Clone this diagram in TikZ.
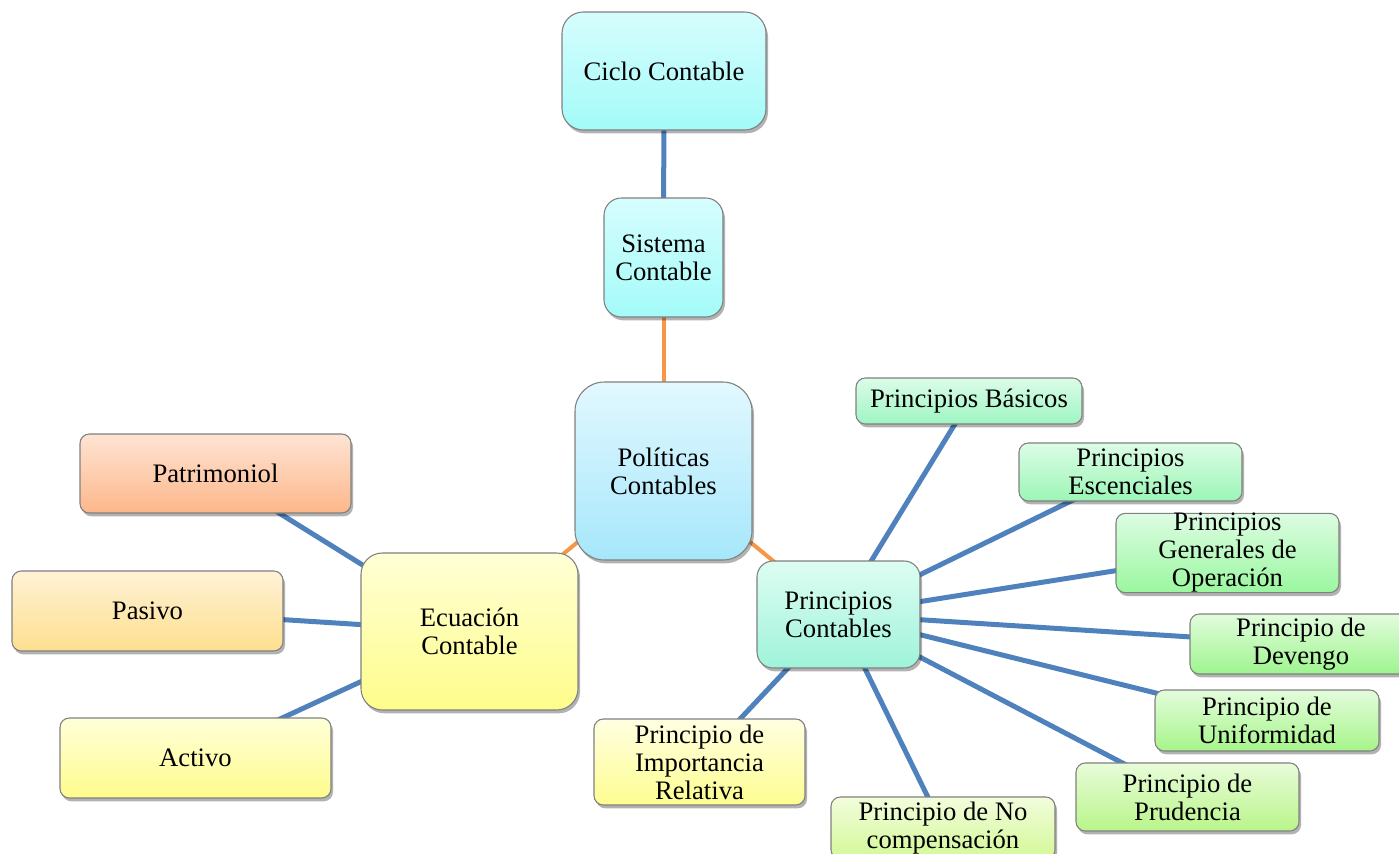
\documentclass[tikz,border=0pt]{standalone}
\usepackage{fontspec}
\setmainfont{Liberation Serif}
\usetikzlibrary{shadows,backgrounds}
\definecolor{cyanT}{HTML}{D6FDFD}\definecolor{cyanB}{HTML}{A3FBF9}
\definecolor{polT}{HTML}{E2F8FE}\definecolor{polB}{HTML}{A6E7FB}
\definecolor{pcT}{HTML}{DDFDF2}\definecolor{pcB}{HTML}{9FF3DA}
\definecolor{basT}{HTML}{DCFCE9}\definecolor{basB}{HTML}{9EF5C2}
\definecolor{escT}{HTML}{DCFCE6}\definecolor{escB}{HTML}{9CF6B6}
\definecolor{genT}{HTML}{DDFCE3}\definecolor{genB}{HTML}{9AF79F}
\definecolor{devT}{HTML}{E2FCDD}\definecolor{devB}{HTML}{9EF58E}
\definecolor{uniT}{HTML}{E3FCDC}\definecolor{uniB}{HTML}{A6F58A}
\definecolor{pruT}{HTML}{E8FCD9}\definecolor{pruB}{HTML}{B9F58A}
\definecolor{ncT}{HTML}{F2FDDC}\definecolor{ncB}{HTML}{D3F897}
\definecolor{impT}{HTML}{FFFFE2}\definecolor{impB}{HTML}{FEFD90}
\definecolor{ecuT}{HTML}{FFFFD6}\definecolor{ecuB}{HTML}{FEFD8A}
\definecolor{actT}{HTML}{FFFFD9}\definecolor{actB}{HTML}{FEFC8C}
\definecolor{pasT}{HTML}{FFF2D6}\definecolor{pasB}{HTML}{FDDF8E}
\definecolor{patT}{HTML}{FEE4D4}\definecolor{patB}{HTML}{FDB78A}
\definecolor{linkblue}{HTML}{4F81BD}
\definecolor{linkorange}{HTML}{F79646}
\definecolor{boxline}{HTML}{808080}
\tikzset{
  box/.style={drop shadow={shadow xshift=1.5pt, shadow yshift=-2.5pt, opacity=0.3, fill=black},
    draw=boxline, line width=0.8pt, rounded corners=7pt,
    align=center, inner sep=0pt, font=\fontsize{20}{21}\selectfont},
  bluelink/.style={draw=linkblue, line width=3.75pt},
  orangelink/.style={draw=linkorange, line width=3pt}
}
\begin{document}
\begin{tikzpicture}[x=0.75pt,y=-0.75pt]
\useasboundingbox (0,0) rectangle (1399,853);
% nodes
\node[box, top color=cyanT, bottom color=cyanB, minimum width=153pt, minimum height=88.5pt, rounded corners=16pt] (ciclo) at (664,71) {Ciclo Contable};
\node[box, top color=cyanT, bottom color=cyanB, minimum width=89.25pt, minimum height=89.25pt, rounded corners=13pt] (sist) at (663.5,257.5) {Sistema\\Contable};
\node[box, top color=polT, bottom color=polB, minimum width=132.75pt, minimum height=133.5pt, rounded corners=22pt] (pol) at (663.5,471) {Políticas\\Contables};
\node[box, top color=ecuT, bottom color=ecuB, minimum width=162.75pt, minimum height=117.75pt, rounded corners=16pt] (ecu) at (469.5,631.5) {Ecuación\\Contable};
\node[box, top color=patT, bottom color=patB, minimum width=203.25pt, minimum height=59.25pt] (pat) at (215.5,473.5) {Patrimoniol};
\node[box, top color=pasT, bottom color=pasB, minimum width=203.25pt, minimum height=60pt] (pas) at (147.5,611) {Pasivo};
\node[box, top color=actT, bottom color=actB, minimum width=203.25pt, minimum height=60pt] (act) at (195.5,758) {Activo};
\node[box, top color=pcT, bottom color=pcB, minimum width=122.25pt, minimum height=80.25pt, rounded corners=12pt] (pc) at (838.5,614.5) {Principios\\Contables};
\node[box, top color=basT, bottom color=basB, minimum width=169.5pt, minimum height=34.5pt] (bas) at (969,401) {Principios Básicos};
\node[box, top color=escT, bottom color=escB, minimum width=167.25pt, minimum height=43.5pt] (esc) at (1130.5,472) {Principios\\Escenciales};
\node[box, top color=genT, bottom color=genB, minimum width=167.25pt, minimum height=57pt] (gen) at (1227.5,553) {Principios\\Generales de\\Operación};
\node[box, top color=devT, bottom color=devB, minimum width=166.5pt, minimum height=45pt] (dev) at (1301,644) {Principio de\\Devengo};
\node[box, top color=uniT, bottom color=uniB, minimum width=168pt, minimum height=45.75pt] (uni) at (1267,720.5) {Principio de\\Uniformidad};
\node[box, top color=pruT, bottom color=pruB, minimum width=167.25pt, minimum height=51pt] (pru) at (1187.5,797) {Principio de\\Prudencia};
\node[box, top color=ncT, bottom color=ncB, minimum width=168pt, minimum height=46.5pt] (nc) at (943,828) {Principio de No\\compensación};
\node[box, top color=impT, bottom color=impB, minimum width=158.25pt, minimum height=64.5pt] (imp) at (699.5,762) {Principio de\\Importancia\\Relativa};
% connectors
\begin{scope}[on background layer]
\draw[bluelink] (ciclo.center) -- (sist.center);
\draw[orangelink] (sist.center) -- (pol.center);
\draw[orangelink] (pol.center) -- (ecu.center);
\draw[orangelink] (pol.center) -- (pc.center);
\draw[bluelink] (ecu.center) -- (pat.center);
\draw[bluelink] (ecu.center) -- (pas.center);
\draw[bluelink] (ecu.center) -- (act.center);
\draw[bluelink] (pc.center) -- (bas.center);
\draw[bluelink] (pc.center) -- (esc.center);
\draw[bluelink] (pc.center) -- (gen.center);
\draw[bluelink] (pc.center) -- (dev.center);
\draw[bluelink] (pc.center) -- (uni.center);
\draw[bluelink] (pc.center) -- (pru.center);
\draw[bluelink] (pc.center) -- (nc.center);
\draw[bluelink] (pc.center) -- (imp.center);
\end{scope}
\end{tikzpicture}
\end{document}
